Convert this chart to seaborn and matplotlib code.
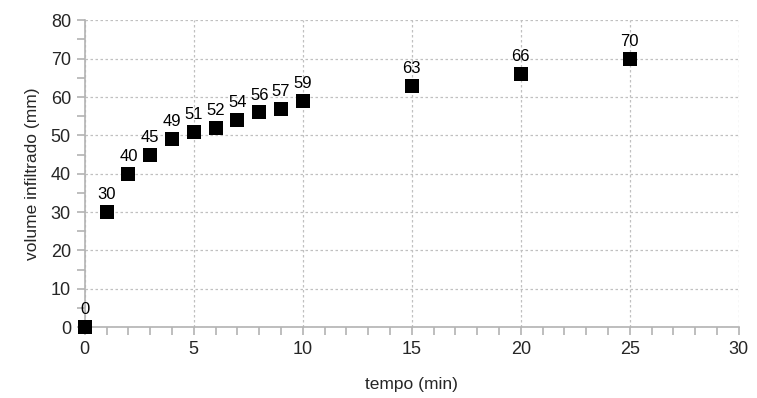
import matplotlib
matplotlib.use('Agg')
import matplotlib.pyplot as plt
import seaborn as sns
from matplotlib.ticker import MultipleLocator

# dados: tempo (min) x volume infiltrado (mm)
tempo = [0, 1, 2, 3, 4, 5, 6, 7, 8, 9, 10, 15, 20, 25]
volume = [0, 30, 40, 45, 49, 51, 52, 54, 56, 57, 59, 63, 66, 70]

sns.set_style('white')
plt.rcParams['font.family'] = ['Liberation Sans', 'DejaVu Sans']

fig = plt.figure(figsize=(7.57, 3.98), dpi=100)
ax = fig.add_axes([0.112, 0.178, 0.864, 0.771])

sns.scatterplot(x=tempo, y=volume, marker='s', s=95, color='black',
                edgecolor='black', linewidth=0, ax=ax, zorder=3, clip_on=False)

for t, v in zip(tempo, volume):
    ax.annotate(str(v), (t, v), xytext=(0, 7), textcoords='offset points',
                ha='center', va='bottom', fontsize=12, color='black')

ax.set_xlim(0, 30)
ax.set_ylim(0, 80)
ax.xaxis.set_major_locator(MultipleLocator(5))
ax.xaxis.set_minor_locator(MultipleLocator(1))
ax.yaxis.set_major_locator(MultipleLocator(10))
ax.yaxis.set_minor_locator(MultipleLocator(5))

ax.grid(True, which='major', color='#c0c0c0', linestyle=(0, (2, 2)), linewidth=0.9)
for side in ['top', 'right']:
    ax.spines[side].set_visible(False)
for side in ['left', 'bottom']:
    ax.spines[side].set_color('#b3b3b3')
    ax.spines[side].set_linewidth(1.2)

ax.tick_params(which='both', direction='out', color='#b3b3b3', width=1.2)
ax.tick_params(which='major', length=6, labelsize=13, pad=4)
ax.tick_params(which='minor', length=6)
ax.tick_params(axis='x', which='both', bottom=True)
ax.tick_params(axis='y', which='both', left=True)

ax.set_xlabel('tempo (min)', fontsize=12.5, labelpad=14)
ax.set_ylabel('volume infiltrado (mm)', fontsize=12.5, labelpad=8)

fig.savefig('out.png', dpi=100)
